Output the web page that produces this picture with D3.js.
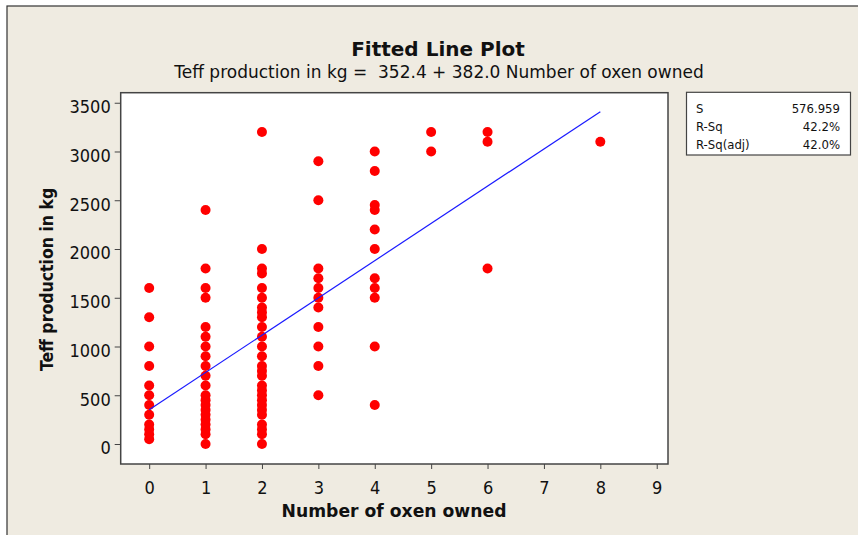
<!DOCTYPE html>
<html>
<head>
<meta charset="utf-8">
<script src="https://cdn.jsdelivr.net/npm/d3@7"></script>
<style>
  body { margin: 0; background: #fff; }
  svg text { font-family: "DejaVu Sans Condensed", "DejaVu Sans", sans-serif; fill: #111; }
  svg text.wide { font-family: "DejaVu Sans", sans-serif; }
</style>
</head>
<body>
<svg id="chart"></svg>
<script>
// number of oxen owned -> teff production (kg) of each household
const oxenOwned = [0, 1, 2, 3, 4, 5, 6, 8];
const teffKg = [
    [1600, 1300, 1000, 800, 600, 500, 400, 300, 200, 150, 100, 50],
    [2400, 1800, 1600, 1500, 1200, 1100, 1000, 900, 800, 700, 600, 500, 450, 400, 350, 300, 250, 200, 150, 100, 0],
    [3200, 2000, 1800, 1750, 1600, 1500, 1400, 1350, 1300, 1200, 1100, 1000, 900, 800, 750, 700, 600, 550, 500, 450, 400, 350, 300, 200, 150, 100, 0],
    [2900, 2500, 1800, 1700, 1600, 1500, 1400, 1200, 1000, 800, 500],
    [3000, 2800, 2450, 2400, 2200, 2000, 1700, 1600, 1500, 1000, 400],
    [3200, 3000],
    [3200, 3100, 1800],
    [3100]
];
const fitIntercept = 352.4, fitSlope = 382.0;
const xTicks = [0, 1, 2, 3, 4, 5, 6, 7, 8, 9];
const yTicks = [0, 500, 1000, 1500, 2000, 2500, 3000, 3500];
const statNames = ["S", "R-Sq", "R-Sq(adj)"];
const statValues = ["576.959", "42.2%", "42.0%"];

const W = 858, H = 535;
const plot = { left: 120.7, right: 668, top: 92.7, bottom: 464 };

const svg = d3.select("#chart").attr("width", W).attr("height", H);

// beige panel with dark top/left border
svg.append("rect").attr("x", 7).attr("y", 6).attr("width", W).attr("height", H)
    .attr("fill", "#efebe1").attr("stroke", "#333").attr("stroke-width", 1.2);

const x = d3.scaleLinear().domain([-0.505, 9.2]).range([plot.left, plot.right]);
const y = d3.scaleLinear().domain([-205, 3603]).range([plot.bottom, plot.top]);

svg.append("rect")
    .attr("x", plot.left).attr("y", plot.top)
    .attr("width", plot.right - plot.left).attr("height", plot.bottom - plot.top)
    .attr("fill", "#fff").attr("stroke", "#444").attr("stroke-width", 1.5);

const points = [];
oxenOwned.forEach((o, i) => teffKg[i].forEach(t => points.push({ oxen: o, teff: t })));

svg.append("g").selectAll("circle")
    .data(points)
    .enter().append("circle")
    .attr("cx", d => x(d.oxen))
    .attr("cy", d => y(d.teff))
    .attr("r", 5)
    .attr("fill", "#ff0000");

const line = d3.line().x(d => x(d)).y(d => y(fitIntercept + fitSlope * d));
svg.append("path")
    .datum([d3.min(oxenOwned), d3.max(oxenOwned)])
    .attr("d", line)
    .attr("fill", "none")
    .attr("stroke", "#1a1aff")
    .attr("stroke-width", 1.2);

const xAxis = svg.append("g")
    .attr("transform", `translate(0,${plot.bottom})`)
    .call(d3.axisBottom(x).tickValues(xTicks).tickSize(5).tickPadding(12));
const yAxis = svg.append("g")
    .attr("transform", `translate(${plot.left},0)`)
    .call(d3.axisLeft(y).tickValues(yTicks).tickFormat(d3.format("d")).tickSize(6).tickPadding(4));
[xAxis, yAxis].forEach(a => {
    a.select(".domain").remove();
    a.selectAll("line").attr("stroke", "#444");
    a.selectAll("text").style("font-size", "18px").attr("fill", "#111");
});
yAxis.selectAll("text").attr("dy", "0.55em");

svg.append("text")
    .attr("class", "wide")
    .attr("x", 438).attr("y", 56)
    .attr("text-anchor", "middle")
    .style("font-size", "20px").style("font-weight", "bold")
    .text("Fitted Line Plot");

svg.append("text")
    .attr("class", "wide")
    .attr("x", 439).attr("y", 78)
    .attr("text-anchor", "middle")
    .style("font-size", "17px").style("white-space", "pre")
    .text(`Teff production in kg =  ${fitIntercept.toFixed(1)} + ${fitSlope.toFixed(1)} Number of oxen owned`);

svg.append("text")
    .attr("class", "wide")
    .attr("x", 394).attr("y", 517)
    .attr("text-anchor", "middle")
    .style("font-size", "17.2px").style("font-weight", "bold")
    .text("Number of oxen owned");

svg.append("text")
    .attr("transform", `translate(53,${(plot.top + plot.bottom) / 2 + 1}) rotate(-90)`)
    .attr("text-anchor", "middle")
    .style("font-size", "17.5px").style("font-weight", "bold")
    .text("Teff production in kg");

// summary box
const box = svg.append("g");
box.append("rect")
    .attr("x", 686.5).attr("y", 92.3).attr("width", 164).attr("height", 62.7)
    .attr("fill", "#fff").attr("stroke", "#444").attr("stroke-width", 1.2);
statNames.forEach((n, i) => {
    box.append("text").attr("x", 696).attr("y", 113 + i * 18)
        .style("font-size", "13px").text(n);
    box.append("text").attr("x", 840).attr("y", 113 + i * 18)
        .attr("text-anchor", "end").style("font-size", "13px").text(statValues[i]);
});
</script>
</body>
</html>
